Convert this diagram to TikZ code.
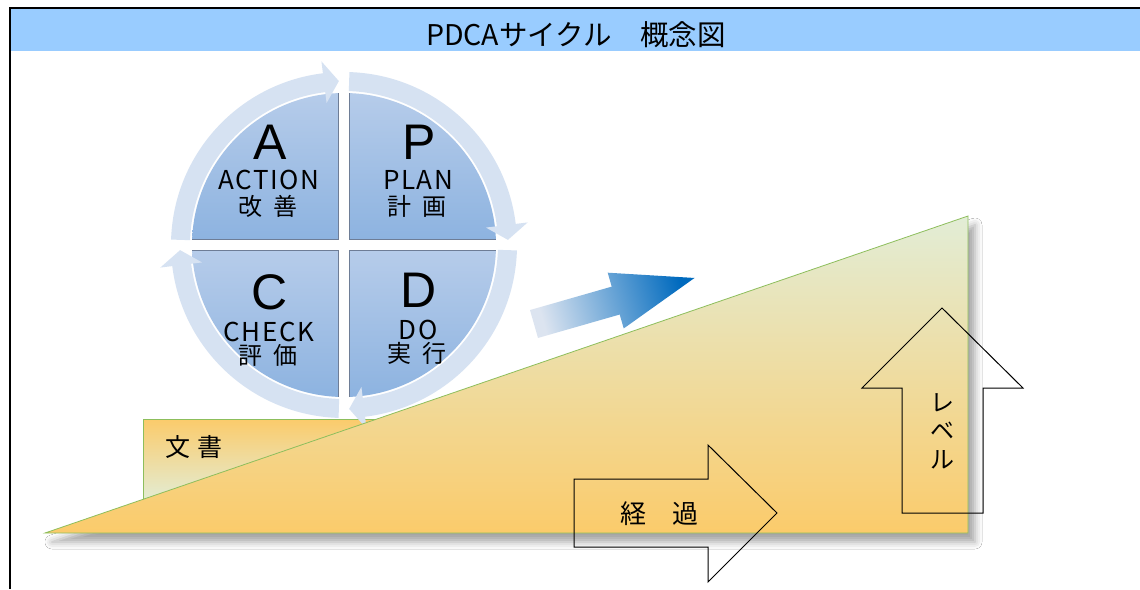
\documentclass[tikz,border=0pt]{standalone}
\usepackage{fontspec}
\newfontfamily\jp{Noto Sans CJK JP}
\newfontfamily\jpspaced[LetterSpace=6]{Noto Sans CJK JP}
\newfontfamily\arialf{Liberation Sans}
\usetikzlibrary{shadows.blur}
\definecolor{ringc}{RGB}{214,226,242}
\definecolor{qtop}{RGB}{182,204,234}
\definecolor{qbot}{RGB}{141,179,224}
\definecolor{qedge}{RGB}{110,125,150}
\definecolor{titlebg}{RGB}{153,204,255}
\definecolor{trigreen}{RGB}{226,237,214}
\definecolor{triorange}{RGB}{251,203,107}
\definecolor{edgegreen}{RGB}{141,190,92}
\definecolor{arrlight}{RGB}{220,228,240}
\definecolor{arrdark}{RGB}{0,106,190}
\begin{document}
\begin{tikzpicture}[x=1pt,y=1pt,
  ringarrow/.style={fill=ringc, draw=none},
  quad/.style={top color=qtop, bottom color=qbot, draw=none},
  gapedge/.style={draw=qedge, line width=0.9pt},
  outlinearrow/.style={draw=black, line width=1pt, line join=miter},
  bigletter/.style={inner sep=0pt, font=\arialf\fontsize{50}{50}\selectfont},
  wordtext/.style={inner sep=0pt, font=\jpspaced\fontsize{26}{26}\selectfont},
  kanjitext/.style={inner sep=0pt, font=\jp\fontsize{24}{24}\selectfont}
]
\useasboundingbox (0,0) rectangle (1140,-589);
\fill[white] (0,0) rectangle (1140,-589);

% title band and frame
\fill[titlebg] (10,-9) rectangle (1140,-51);
\draw[line width=2.5pt] (1140,-8) -- (10,-8) -- (10,-589);
\node[inner sep=0pt, font=\jp\fontsize{28.5}{28.5}\selectfont] (title) at (576,-35) {PDCAサイクル　概念図};

% document box (behind triangle)
\path[draw=edgegreen, line width=0.8pt, top color=triorange, bottom color=trigreen] (143,-419) rectangle (600,-502);
\node[inner sep=0pt, font=\jp\fontsize{25}{25}\selectfont] (doc) at (194,-447) {文\hspace{7pt}書};

% PDCA circle
\begin{scope}[shift={(344,-245)}]
  \path[quad] (-5.5,5.5) -- (92.07:152) arc[start angle=92.07, end angle=177.93, radius=152] -- cycle;
  \path[quad] (5.5,5.5) -- (2.07:152) arc[start angle=2.07, end angle=87.93, radius=152] -- cycle;
  \path[quad] (5.5,-5.5) -- (-87.93:152) arc[start angle=-87.93, end angle=-2.07, radius=152] -- cycle;
  \path[quad] (-5.5,-5.5) -- (182.07:152) arc[start angle=182.07, end angle=267.93, radius=152] -- cycle;
  \draw[gapedge] (92.07:152) -- (-5.5,5.5) -- (177.93:152);
  \draw[gapedge] (87.93:152) -- (5.5,5.5) -- (2.07:152);
  \draw[gapedge] (-2.07:152) -- (5.5,-5.5) -- (-87.93:152);
  \draw[gapedge] (-92.07:152) -- (-5.5,-5.5) -- (182.07:152);
  \foreach \r in {0,-90,-180,-270} {
    \path[ringarrow, rotate=\r] (178.2:173) arc[start angle=178.2, end angle=97, radius=173]
      -- (97:185) -- (91.8:164) -- (97:143) -- (97:154)
      arc[start angle=97, end angle=178.2, radius=154] -- cycle;
  }
\end{scope}

\node[bigletter] (A) at (270,-142) {A};
\node[bigletter] (P) at (419,-142) {P};
\node[bigletter] (C) at (270,-292) {C};
\node[bigletter] (D) at (419,-290) {D};
\node[wordtext] (action) at (269,-180) {ACTION};
\node[wordtext] (plan) at (418,-180) {PLAN};
\node[wordtext] (check) at (269,-332) {CHECK};
\node[wordtext] (do) at (418,-330) {DO};
\node[kanjitext] (kaizen) at (268,-206) {改\hspace{11pt}善};
\node[kanjitext] (keikaku) at (417,-206) {計\hspace{11pt}画};
\node[kanjitext] (hyouka) at (268,-355) {評\hspace{11pt}価};
\node[kanjitext] (jikkou) at (417,-353) {実\hspace{11pt}行};

% big triangle with shadow
\path[draw=edgegreen, line width=0.8pt, top color=trigreen, bottom color=triorange,
  blur shadow={shadow xshift=7pt, shadow yshift=-9pt, shadow blur radius=7pt, shadow opacity=35}]
  (45,-533) -- (968,-533) -- (968,-216) -- cycle;

% blue gradient arrow
\begin{scope}[shift={(534,-324)}, rotate=16]
  \path[left color=arrlight, right color=arrdark, shading angle=106]
    (0,14.5) -- (85,14.5) -- (85,29) -- (167,0) -- (85,-29) -- (85,-14.5) -- (0,-14.5) -- cycle;
\end{scope}

% elapsed-time arrow
\draw[outlinearrow] (574,-479) -- (708,-479) -- (708,-445) -- (777,-513) -- (708,-582) -- (708,-547) -- (574,-547) -- cycle;
\node[inner sep=0pt, font=\jp\fontsize{26}{26}\selectfont] (keika) at (659,-514) {経　過};

% level arrow
\draw[outlinearrow] (902,-513) -- (902,-388) -- (862,-388) -- (942,-308) -- (1023,-388) -- (983,-388) -- (983,-513) -- cycle;
\node[inner sep=0pt, align=center, font=\jp\fontsize{24}{28.5}\selectfont] (level) at (942,-431) {レ\\ベ\\ル};
\end{tikzpicture}
\end{document}
